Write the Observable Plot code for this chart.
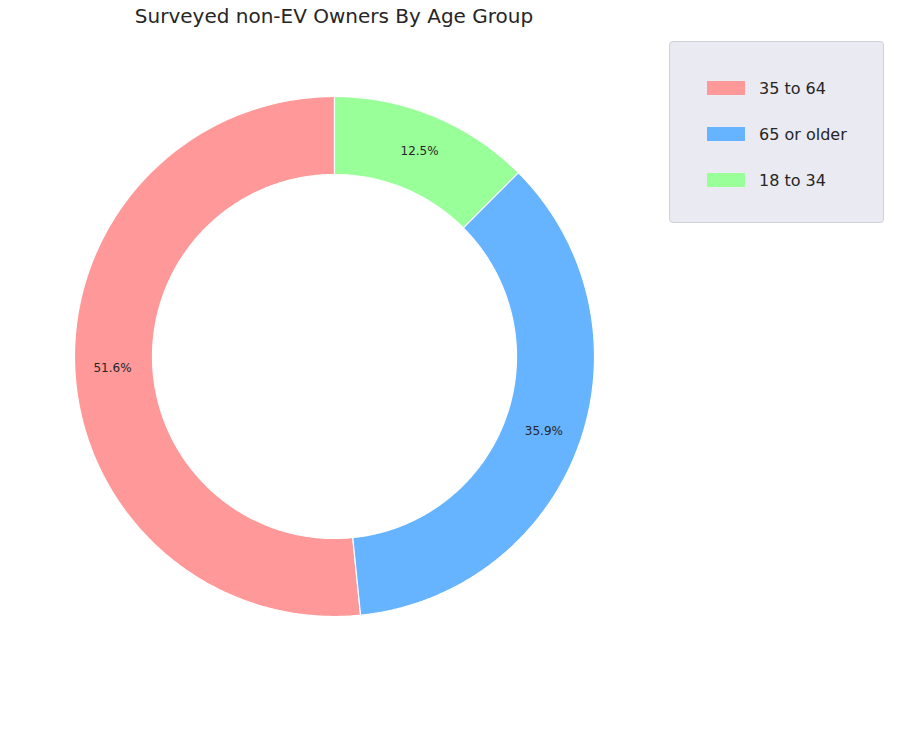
<!DOCTYPE html>
<html>
<head>
<meta charset="utf-8">
<script src="https://cdn.jsdelivr.net/npm/d3@7"></script>
<script src="https://cdn.jsdelivr.net/npm/@observablehq/plot@0.6"></script>
<style>
  body { margin: 0; background: #fff; font-family: "DejaVu Sans", sans-serif; }
  #wrap { position: relative; width: 920px; height: 753px; }
  #title { position: absolute; left: 0; width: 668px; top: 4px; text-align: center; font-size: 20px; color: #262626; }
  #chart { position: absolute; left: 0; top: 36px; }
  #legend { position: absolute; left: 669px; top: 41px; width: 215px; height: 182px; background: #eaeaf2; border: 1px solid #d0d0d8; border-radius: 4px; box-sizing: border-box; padding-top: 35px; }
  .row { display: flex; align-items: center; height: 46px; margin-top: -12px; margin-bottom: 12px; }
  .sw { width: 38px; height: 14px; margin-left: 37px; margin-right: 14px; }
  .lb { font-size: 16px; color: #262626; }
</style>
</head>
<body>
<div id="wrap">
  <div id="title">Surveyed non-EV Owners By Age Group</div>
  <div id="chart"></div>
  <div id="legend"></div>
</div>
<script>
const labels = ["35 to 64", "65 or older", "18 to 34"];
const shares = [51.6, 35.9, 12.5];
const colors = ["#ff9999", "#66b3ff", "#99ff99"];

const INNER = 0.7;
const total = d3.sum(shares);
let start = Math.PI / 2;
const polys = [];
const texts = [];
shares.forEach((v, i) => {
  const span = (v / total) * 2 * Math.PI;
  const end = start + span; // counterclockwise
  const n = Math.max(8, Math.ceil(span / 0.01));
  const pts = [];
  for (let k = 0; k <= n; k++) {
    const a = start + span * k / n;
    pts.push({ x: Math.cos(a), y: Math.sin(a), cat: labels[i] });
  }
  for (let k = n; k >= 0; k--) {
    const a = start + span * k / n;
    pts.push({ x: INNER * Math.cos(a), y: INNER * Math.sin(a), cat: labels[i] });
  }
  polys.push(...pts);
  const mid = (start + end) / 2;
  texts.push({ x: 0.855 * Math.cos(mid), y: 0.855 * Math.sin(mid), t: v.toFixed(1) + "%" });
  start = end;
});

const chart = Plot.plot({
  width: 920, height: 717,
  margin: 0,
  x: { axis: null, domain: [-1, 1], range: [74, 594] },
  y: { axis: null, domain: [-1, 1], range: [580, 60] },
  color: { domain: labels, range: colors },
  style: { background: "transparent" },
  marks: [
    Plot.line(polys, { x: "x", y: "y", z: "cat", fill: "cat", stroke: "white", strokeWidth: 1.2, curve: "linear-closed" }),
    Plot.text(texts, { x: "x", y: "y", text: "t", fontSize: 12, fill: "#262626", fontFamily: "DejaVu Sans" })
  ]
});
document.getElementById("chart").appendChild(chart);

const legend = document.getElementById("legend");
labels.forEach((l, i) => {
  const row = document.createElement("div");
  row.className = "row";
  row.innerHTML = `<div class="sw" style="background:${colors[i]}"></div><div class="lb">${l}</div>`;
  legend.appendChild(row);
});
</script>
</body>
</html>
